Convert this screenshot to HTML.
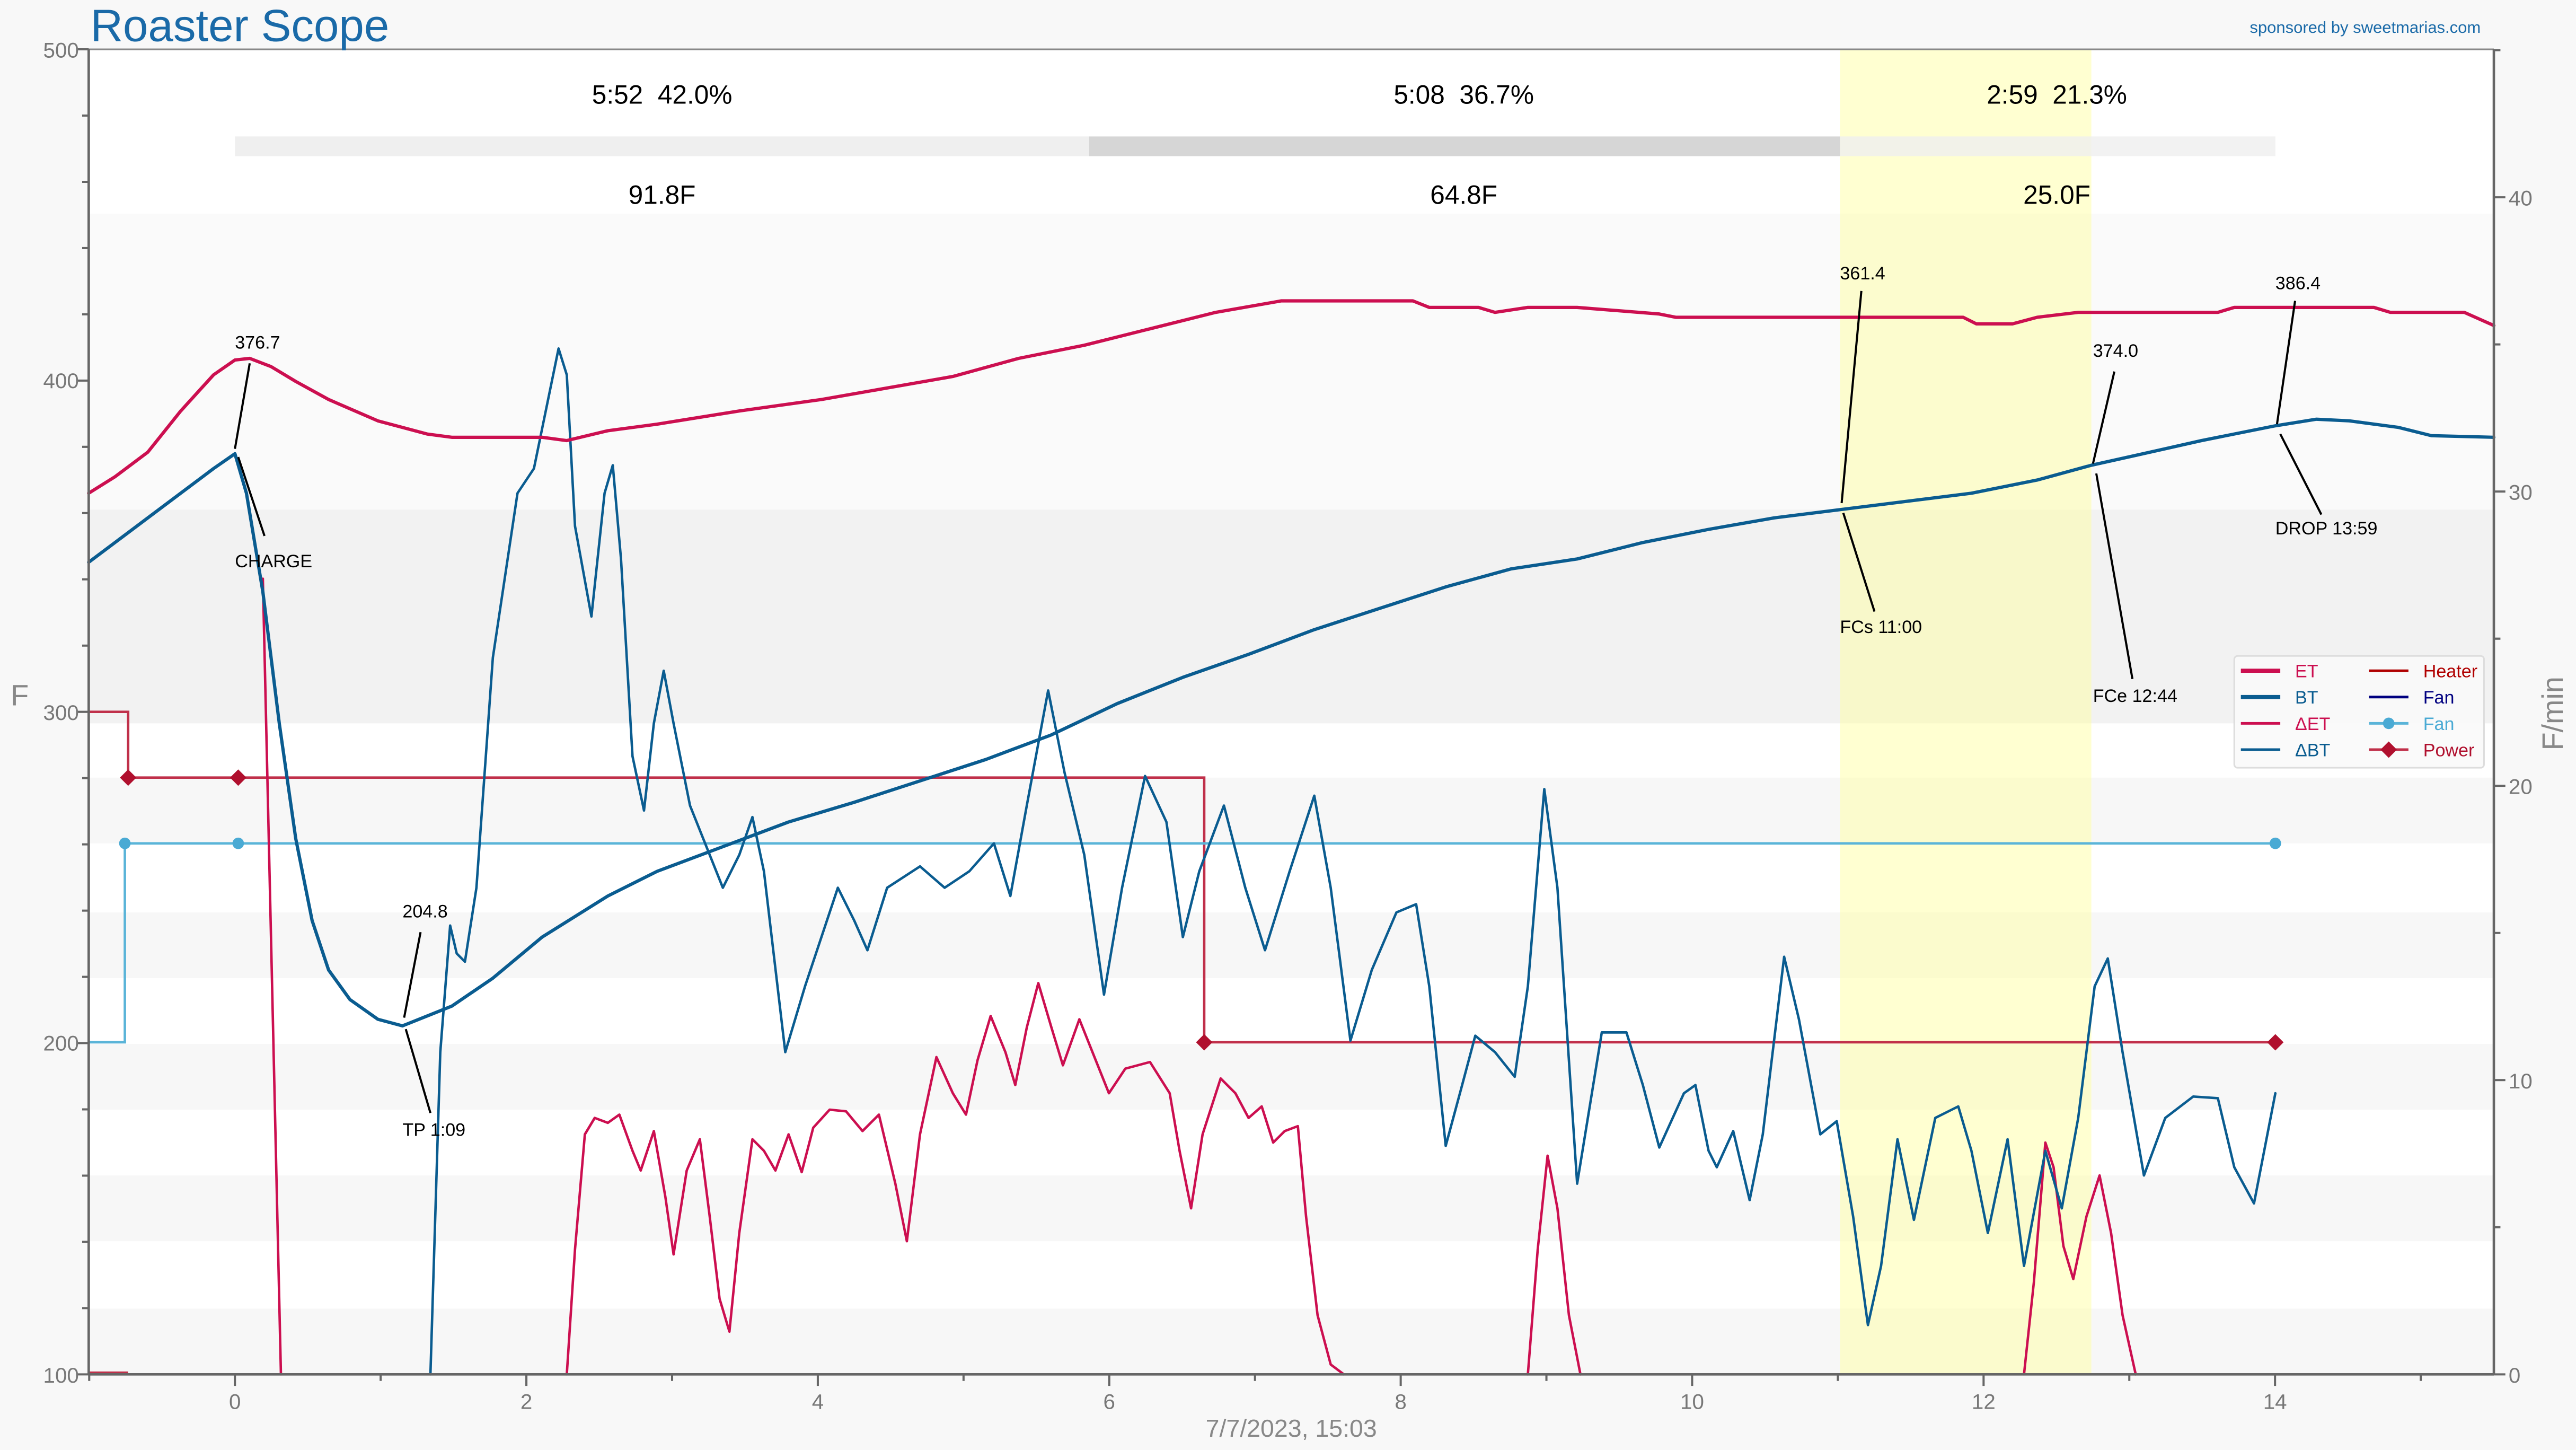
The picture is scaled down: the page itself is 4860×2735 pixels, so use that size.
<!DOCTYPE html>
<html><head><meta charset="utf-8"><style>
html,body{margin:0;padding:0;background:#f8f8f8;}
svg{display:block;font-family:"Liberation Sans",sans-serif;}
</style></head><body>
<svg width="4860" height="2735" viewBox="0 0 1568 882" preserveAspectRatio="none" xmlns="http://www.w3.org/2000/svg">
<rect x="0" y="0" width="1568" height="882" fill="#f8f8f8"/>
<rect x="54" y="30" width="1464" height="806" fill="#ffffff"/>
<rect x="54" y="130" width="1464" height="180" fill="#fafafa"/>
<rect x="54" y="310" width="1464" height="130" fill="#f2f2f2"/>
<g fill="#f7f7f7">
<rect x="54" y="473" width="1464" height="40"/>
<rect x="54" y="555" width="1464" height="40"/>
<rect x="54" y="635" width="1464" height="40"/>
<rect x="54" y="715" width="1464" height="40"/>
<rect x="54" y="796" width="1464" height="40"/>
</g>
<rect x="1120" y="30" width="153" height="806" fill="#ffff99" opacity="0.45"/>
<rect x="143" y="83" width="520" height="12" fill="#efefef"/>
<rect x="663" y="83" width="457" height="12" fill="#d6d6d6"/>
<rect x="1120" y="83" width="265" height="12" fill="#efefef" opacity="0.8"/>
<g font-size="16" fill="#000" text-anchor="middle">
<text x="403" y="63">5:52&#160;&#160;42.0%</text>
<text x="891" y="63">5:08&#160;&#160;36.7%</text>
<text x="1252" y="63">2:59&#160;&#160;21.3%</text>
<text x="403" y="124">91.8F</text>
<text x="891" y="124">64.8F</text>
<text x="1252" y="124">25.0F</text>
</g>
<polyline points="54,433 78,433 78,473 733,473 733,634 1385,634" fill="none" stroke="#c0304a" stroke-width="1.5"/>
<line x1="54" y1="835" x2="78" y2="835" stroke="#c0304a" stroke-width="1.5"/>
<g fill="#b0102e">
<polygon points="78,468 83,473 78,478 73,473"/>
<polygon points="145,468 150,473 145,478 140,473"/>
<polygon points="733,629 738,634 733,639 728,634"/>
<polygon points="1385,629 1390,634 1385,639 1380,634"/>
</g>
<polyline points="54,634 76,634 76,513 1385,513" fill="none" stroke="#5ab4d8" stroke-width="1.5"/>
<g fill="#4aaad4">
<circle cx="76" cy="513" r="3.5"/><circle cx="145" cy="513" r="3.5"/><circle cx="1385" cy="513" r="3.5"/>
</g>
<g fill="none" stroke-linejoin="round" stroke-linecap="round">
<polyline stroke="#cc0f50" stroke-width="1.5" points="160,352 171,836"/>
<polyline stroke="#cc0f50" stroke-width="1.5" points="345,836 350,760 356,690 362,680 370,683 377,678 385,700 390,712 398,688 405,728 410,763 418,712 426,693 432,740 438,790 444,810 450,750 458,693 465,700 472,712 480,690 488,713 495,686 505,675 515,676 525,688 535,678 545,720 552,755 560,690 570,643 580,665 588,678 595,645 603,618 612,640 618,660 625,625 632,598 640,625 647,648 657,620 665,640 675,665 685,650 700,646 712,665 718,700 725,735 732,690 743,656 752,665 760,680 768,673 775,695 782,688 790,685 795,740 802,800 810,830 818,836"/>
<polyline stroke="#cc0f50" stroke-width="1.5" points="930,836 936,760 942,703 948,735 955,800 962,836"/>
<polyline stroke="#cc0f50" stroke-width="1.5" points="1232,836 1238,780 1245,695 1250,710 1256,758 1262,778 1270,740 1278,715 1285,750 1292,800 1300,836"/>
<polyline stroke="#0a5c90" stroke-width="1.5" points="262,836 268,640 274,563 278,580 283,585 290,540 300,400 315,300 325,285 340,212 345,228 350,320 360,375 368,300 373,283 378,340 385,460 392,493 398,440 404,408 410,440 420,490 440,540 450,520 458,497 465,530 478,640 490,600 510,540 520,560 528,578 540,540 560,527 575,540 590,530 605,513 615,545 625,490 638,420 648,470 660,520 672,605 683,540 697,472 710,500 720,570 730,530 745,490 758,540 770,578 785,530 800,484 810,540 822,633 835,590 850,555 862,550 870,600 880,697 890,660 898,630 910,640 922,655 930,600 940,480 948,540 960,720 975,628 990,628 1000,660 1010,698 1025,665 1032,660 1040,700 1045,710 1055,688 1065,730 1073,690 1086,582 1095,620 1108,690 1118,682 1128,740 1137,806 1145,770 1155,693 1165,742 1178,680 1192,673 1200,700 1210,750 1222,693 1232,770 1245,700 1255,735 1265,680 1275,600 1283,583 1292,640 1305,715 1318,680 1335,667 1350,668 1360,710 1372,732 1385,665"/>
<polyline stroke="#cc0f50" stroke-width="2" points="54,300 70,290 90,275 110,250 130,228 143,219 152,218 165,223 180,232 200,243 230,256 260,264 275,266 330,266 345,268 370,262 400,258 450,250 500,243 540,236 580,229 620,218 660,210 700,200 740,190 780,183 860,183 870,187 900,187 910,190 930,187 960,187 1010,191 1020,193 1195,193 1203,197 1225,197 1240,193 1265,190 1350,190 1360,187 1445,187 1455,190 1500,190 1518,198"/>
<polyline stroke="#0a5c90" stroke-width="2" points="54,342 70,330 90,315 110,300 130,285 143,276 150,300 160,360 170,440 180,510 190,560 200,590 213,608 230,620 245,624 260,618 275,612 300,595 330,570 370,545 400,530 440,515 480,500 520,488 560,475 600,462 640,447 680,428 720,412 760,398 800,383 840,370 880,357 920,346 960,340 1000,330 1040,322 1080,315 1120,310 1160,305 1200,300 1240,292 1273,283 1300,277 1340,268 1385,259 1410,255 1430,256 1460,260 1480,265 1518,266"/>
</g>
<g stroke="#000" stroke-width="1.3">
<line x1="152" y1="221" x2="143" y2="273"/><line x1="145" y1="278" x2="161" y2="326"/>
<line x1="256" y1="567" x2="246" y2="619"/><line x1="247" y1="626" x2="262" y2="677"/>
<line x1="1133" y1="177" x2="1121" y2="306"/><line x1="1122" y1="312" x2="1141" y2="372"/>
<line x1="1287" y1="226" x2="1274" y2="282"/><line x1="1276" y1="288" x2="1298" y2="413"/>
<line x1="1397" y1="183" x2="1386" y2="258"/><line x1="1388" y1="264" x2="1413" y2="313"/>
</g>
<g font-size="11" fill="#000">
<text x="143" y="212">376.7</text><text x="143" y="345">CHARGE</text>
<text x="245" y="558">204.8</text><text x="245" y="691">TP 1:09</text>
<text x="1120" y="170">361.4</text><text x="1120" y="385">FCs 11:00</text>
<text x="1274" y="217">374.0</text><text x="1274" y="427">FCe 12:44</text>
<text x="1385" y="176">386.4</text><text x="1385" y="325">DROP 13:59</text>
</g>
<g stroke="#666" stroke-width="1.5" fill="none">
<line x1="54" y1="30" x2="1518" y2="30" stroke="#888" stroke-width="1"/>
<line x1="54" y1="30" x2="54" y2="836"/>
<line x1="1518" y1="30" x2="1518" y2="836"/>
<line x1="54" y1="836" x2="1518" y2="836"/>
</g>
<g stroke="#666" stroke-width="1.3">
<path d="M47,836H54M50,795.7H54M50,755.4H54M50,715.1H54M50,674.8H54M47,634.5H54M50,594.2H54M50,553.9H54M50,513.6H54M50,473.3H54M47,433H54M50,392.7H54M50,352.4H54M50,312.1H54M50,271.8H54M47,231.5H54M50,191.2H54M50,150.9H54M50,110.6H54M50,70.3H54M47,30H54"/>
<path d="M1518,836H1525M1518,746.5H1522M1518,657H1525M1518,567.5H1522M1518,478H1525M1518,388.5H1522M1518,299H1525M1518,209.5H1522M1518,120H1525M1518,30.5H1522"/>
<path d="M54.3,836V840M143,836V843M231.7,836V840M320.4,836V843M409.1,836V840M497.8,836V843M586.5,836V840M675.2,836V843M763.9,836V840M852.6,836V843M941.3,836V840M1030,836V843M1118.7,836V840M1207.4,836V843M1296.1,836V840M1384.8,836V843M1473.5,836V840"/>
</g>
<g font-size="13" fill="#777" text-anchor="end">
<text x="48" y="35">500</text><text x="48" y="236">400</text><text x="48" y="438">300</text><text x="48" y="639">200</text><text x="48" y="841">100</text>
</g>
<g font-size="13" fill="#777" text-anchor="start">
<text x="1527" y="841">0</text><text x="1527" y="662">10</text><text x="1527" y="483">20</text><text x="1527" y="304">30</text><text x="1527" y="125">40</text>
</g>
<g font-size="13" fill="#777" text-anchor="middle">
<text x="143" y="857">0</text><text x="320.4" y="857">2</text><text x="497.8" y="857">4</text><text x="675.2" y="857">6</text><text x="852.6" y="857">8</text><text x="1030" y="857">10</text><text x="1207.4" y="857">12</text><text x="1384.8" y="857">14</text>
</g>
<text x="786" y="874" font-size="15" fill="#888" text-anchor="middle">7/7/2023, 15:03</text>
<text x="12" y="429" font-size="18" fill="#888" text-anchor="middle">F</text>
<text transform="translate(1560,434) rotate(-90)" font-size="18" fill="#888" text-anchor="middle">F/min</text>
<text x="55" y="25" font-size="27.5" fill="#1a6aa8">Roaster Scope</text>
<text x="1510" y="20" font-size="10" fill="#1a6aa8" text-anchor="end">sponsored by sweetmarias.com</text>
<rect x="1360" y="399" width="152" height="68" rx="2" fill="#fafafa" fill-opacity="0.9" stroke="#ddd"/>
<g stroke-width="2.5">
<line x1="1364" y1="408" x2="1388" y2="408" stroke="#cc0f50"/>
<line x1="1364" y1="424" x2="1388" y2="424" stroke="#0a5c90"/>
<line x1="1364" y1="440" x2="1388" y2="440" stroke="#cc0f50" stroke-width="1.6"/>
<line x1="1364" y1="456" x2="1388" y2="456" stroke="#0a5c90" stroke-width="1.6"/>
<line x1="1442" y1="408" x2="1466" y2="408" stroke="#b00000" stroke-width="1.6"/>
<line x1="1442" y1="424" x2="1466" y2="424" stroke="#000080" stroke-width="1.6"/>
<line x1="1442" y1="440" x2="1466" y2="440" stroke="#5ab4d8" stroke-width="1.6"/>
<line x1="1442" y1="456" x2="1466" y2="456" stroke="#c0304a" stroke-width="1.6"/>
</g>
<circle cx="1454" cy="440" r="3.5" fill="#4aaad4"/>
<polygon points="1454,451 1459,456 1454,461 1449,456" fill="#b0102e"/>
<g font-size="11">
<text x="1397" y="412" fill="#cc0f50">ET</text>
<text x="1397" y="428" fill="#0a5c90">BT</text>
<text x="1397" y="444" fill="#cc0f50">ΔET</text>
<text x="1397" y="460" fill="#0a5c90">ΔBT</text>
<text x="1475" y="412" fill="#b00000">Heater</text>
<text x="1475" y="428" fill="#000080">Fan</text>
<text x="1475" y="444" fill="#4aaad4">Fan</text>
<text x="1475" y="460" fill="#b0102e">Power</text>
</g>
</svg>
</body></html>
